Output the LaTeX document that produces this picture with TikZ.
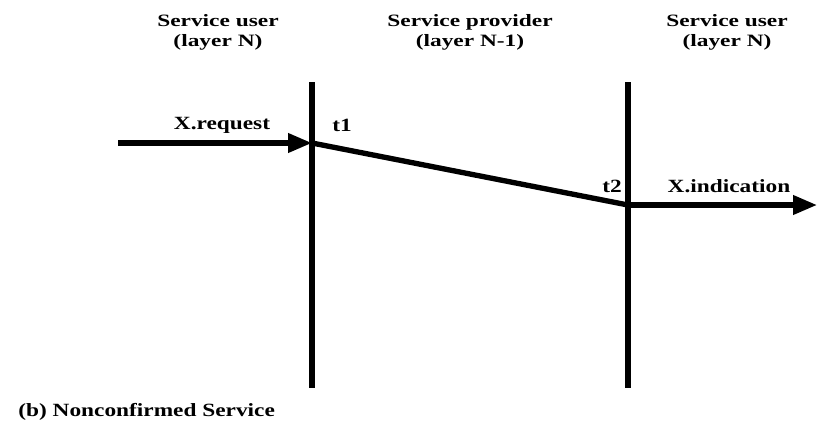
\documentclass[tikz,border=0pt]{standalone}
\usepackage{fontspec}
\setmainfont{Liberation Serif}
\usetikzlibrary{arrows.meta,positioning,calc}

\begin{document}
\begin{tikzpicture}[x=0.75pt, y=-0.75pt, every node/.style={font=\bfseries\fontsize{13}{15}\selectfont, inner sep=0pt},
    head/.style={align=center, xscale=1.35},
    lbl/.style={font=\bfseries\fontsize{14}{16}\selectfont, xscale=1.25},
    layer/.style={line width=5pt},
    prim/.style={line width=3.8pt, -{Triangle[length=18pt,width=14pt]}}]
            \useasboundingbox (0,0) rectangle (817,422);

            % Layer lines
            \coordinate (l1top) at (312,82);
            \coordinate (l1bot) at (312,388);
            \coordinate (l2top) at (628,82);
            \coordinate (l2bot) at (628,388);
            \draw[layer] (l1top) -- (l1bot);
            \draw[layer] (l2top) -- (l2bot);

            % Headings
            \node[head] (userl) at (218,32) {Service user\\(layer N)};
            \node[head] (prov) at (470,32) {Service provider\\(layer N-1)};
            \node[head] (userr) at (727,32) {Service user\\(layer N)};

            % Primitives
            \coordinate (src) at (118,143);
            \coordinate (t1p) at (312,143);
            \coordinate (t2p) at (628,205);
            \coordinate (dst) at (817,205);
            \draw[prim] (src) -- (t1p);
            \draw[line width=4pt] (t1p) -- (t2p);
            \draw[prim] (t2p) -- (dst);
            \node[lbl] (req) at (222,125) {X.request};
            \node[lbl] (t1) at (342,125) {t1};
            \node[lbl] (t2) at (612,186) {t2};
            \node[lbl] (ind) at (729,186) {X.indication};

            % Caption
            \node[lbl, anchor=west] (cap) at (18,412) {(b) Nonconfirmed Service};
        \end{tikzpicture}
\end{document}
